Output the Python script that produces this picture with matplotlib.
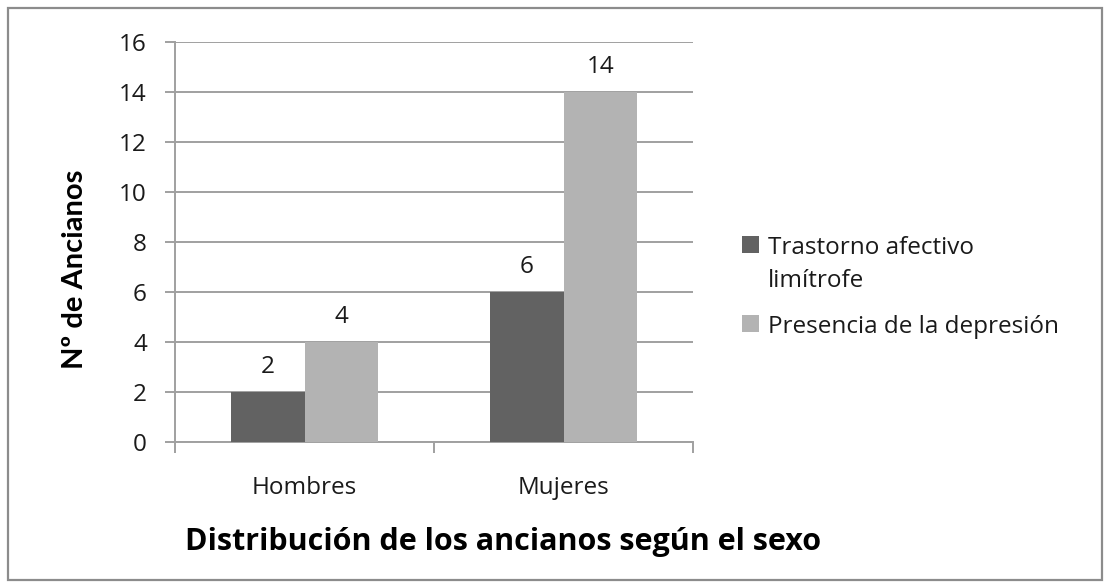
import matplotlib
matplotlib.use("Agg")
import matplotlib.pyplot as plt
from matplotlib.patches import Rectangle
import numpy as np

plt.rcParams['font.family'] = ['Open Sans', 'DejaVu Sans']

categories = ["Hombres", "Mujeres"]
series_names = ["Trastorno afectivo\nlimítrofe", "Presencia de la depresión"]
trastorno = [2, 6]
depresion = [4, 14]
colors = ["#626262", "#b3b3b3"]
grid_c = "#a0a0a0"
txt_c = "#1a1a1a"
fs = 17.5

W, H = 1110, 588
fig = plt.figure(figsize=(W / 100, H / 100), dpi=100)
ax = fig.add_axes([175 / W, 1 - 442 / H, (693 - 175) / W, 400 / H])

x = np.arange(len(categories))
w = 0.285
b1 = ax.bar(x - w / 2, trastorno, w, color=colors[0], label=series_names[0], zorder=3)
b2 = ax.bar(x + w / 2, depresion, w, color=colors[1], label=series_names[1], zorder=3)

for bars in (b1, b2):
    for r in bars:
        ax.annotate(f"{int(r.get_height())}", (r.get_x() + r.get_width() / 2, r.get_height()),
                    xytext=(0, 13.7), textcoords="offset points", ha="center", va="baseline",
                    fontsize=fs, color=txt_c)

ax.set_xlim(-0.5, 1.5)
ax.set_ylim(0, 16)
ax.set_yticks(range(0, 17, 2))
ax.yaxis.grid(True, color=grid_c, linewidth=1.4, zorder=0)
ax.set_xticks(x)
ax.set_xticklabels(categories, fontsize=fs, color=txt_c)
ax.tick_params(axis="x", which="major", length=0, pad=24.5)
ax.set_xticks([-0.5, 0.5, 1.5], minor=True)
ax.tick_params(axis="x", which="minor", length=8, color=grid_c, width=1.4)
ax.tick_params(axis="y", length=7.2, color=grid_c, width=1.4, labelsize=fs,
               labelcolor=txt_c, pad=13)

for s in ("top", "right"):
    ax.spines[s].set_visible(False)
for s in ("left", "bottom"):
    ax.spines[s].set_color(grid_c)
    ax.spines[s].set_linewidth(1.4)

# axis titles placed in figure pixels
fig.text(83 / W, 1 - 269 / H, "Nº de Ancianos", rotation=90, rotation_mode="anchor",
         ha="center", va="baseline", fontsize=21, fontweight="bold", color="black",
         family=["Lato", "DejaVu Sans"])
fig.text(503 / W, 1 - 550 / H, "Distribución de los ancianos según el sexo",
         ha="center", va="baseline", fontsize=22, fontweight="bold", color="black")

leg = fig.legend(handles=[b1, b2], labels=series_names, loc="upper left",
                 bbox_to_anchor=(742 / W, 1 - 236 / H), frameon=False, fontsize=fs,
                 handlelength=0.7, handleheight=0.7, handletextpad=0.37,
                 labelspacing=0.9, borderpad=0, borderaxespad=0)
for t in leg.get_texts():
    t.set_linespacing(1.5)
    t.set_color(txt_c)
# square next to the first line of a two-line label
for col in leg._legend_handle_box.get_children():
    for item in col.get_children():
        item.align = "top"

fig.patches.append(Rectangle((8 / W, 8 / H), 1 - 16 / W, 1 - 16 / H, transform=fig.transFigure,
                             fill=False, edgecolor="#8c8c8c", linewidth=1.6))

fig.savefig("out.png", dpi=100)
